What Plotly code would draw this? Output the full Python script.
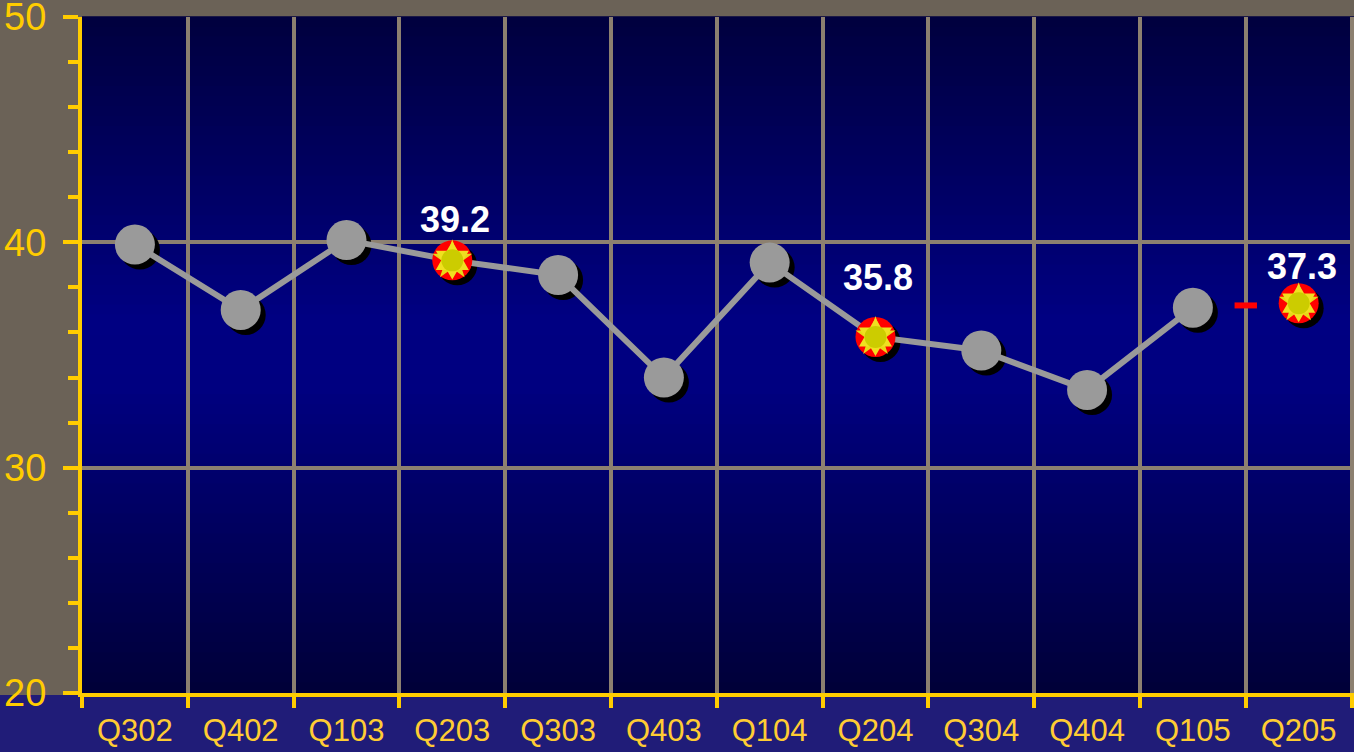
import plotly.graph_objects as go

# ---------------- data ----------------
quarters = ["Q302", "Q402", "Q103", "Q203", "Q303", "Q403",
            "Q104", "Q204", "Q304", "Q404", "Q105", "Q205"]
actual = [39.9, 37.0, 40.1, 39.2, 38.55, 34.0, 39.1, 35.8, 35.2, 33.45, 37.1, None]
target_q205 = 37.3
highlight_idx = [3, 7, 11]
highlight_text = ["39.2", "35.8", "37.3"]
y_ticks = [20, 30, 40, 50]

# ---------------- styles ----------------
YELLOW = "#FFCC00"
GRID = "#8C8070"
PAPER = "#6B6257"
STRIP = "#201C78"
GRAY = "#9A9A9A"
FONT = "Liberation Sans, Arial, sans-serif"
label_yshift = [41, 59, 37]

L, T, B = 82, 17, 59
W, H = 1354, 752
plot_w, plot_h = W - L, H - T - B
x_rng = [-0.5, 11.523]
y_rng = [20, 50]
px_per_x = plot_w / (x_rng[1] - x_rng[0])
px_per_y = plot_h / (y_rng[1] - y_rng[0])
sh_dx, sh_dy = 5 / px_per_x, -5 / px_per_y

xs = list(range(len(quarters)))
series = list(actual)
all_vals = [v if v is not None else target_q205 for v in actual]

fig = go.Figure()

# shadows
fig.add_trace(go.Scatter(
    x=[x + sh_dx for x in xs], y=[v + sh_dy for v in all_vals],
    mode="markers", marker=dict(size=40, color="black", line=dict(width=0)),
    hoverinfo="skip", showlegend=False))

# connecting line
fig.add_trace(go.Scatter(
    x=xs, y=series, mode="lines", line=dict(color=GRAY, width=6),
    connectgaps=False, hoverinfo="skip", showlegend=False))

# normal points
norm_x = [x for x in xs if x not in highlight_idx]
norm_y = [all_vals[x] for x in norm_x]
fig.add_trace(go.Scatter(
    x=norm_x, y=norm_y, mode="markers",
    marker=dict(size=40, color=GRAY, line=dict(width=0)),
    name="value", showlegend=False))

# highlighted points
hx = highlight_idx
hy = [all_vals[i] for i in hx]
fig.add_trace(go.Scatter(
    x=hx, y=hy, mode="markers",
    marker=dict(size=40, color="#FF0000", line=dict(width=0)),
    showlegend=False, hoverinfo="skip"))
fig.add_trace(go.Scatter(
    x=hx, y=hy, mode="markers",
    marker=dict(size=30, color="#E8D818", symbol="star", line=dict(width=0)),
    showlegend=False, hoverinfo="skip"))
fig.add_trace(go.Scatter(
    x=hx, y=hy, mode="markers",
    marker=dict(size=29, color="#F0E020", symbol="hexagram", line=dict(width=0)),
    showlegend=False, hoverinfo="skip"))
fig.add_trace(go.Scatter(
    x=hx, y=hy, mode="markers",
    marker=dict(size=22, color="#CCCC00", symbol="circle", line=dict(width=0)),
    showlegend=False, hoverinfo="skip"))

# red break dash between Q105 and Q205
fig.add_trace(go.Scatter(
    x=[(xs[-2] + xs[-1]) / 2], y=[(actual[-2] + target_q205) / 2],
    mode="markers",
    marker=dict(symbol="line-ew", size=16, line=dict(color="#FF0000", width=6)),
    showlegend=False, hoverinfo="skip"))

# labels
for i, t, dy in zip(highlight_idx, highlight_text, label_yshift):
    fig.add_annotation(x=i, y=all_vals[i], text=t, showarrow=False,
                       yshift=dy, xshift=3,
                       font=dict(family=FONT, size=36, color="white", weight="bold"))

# background gradient in plot area
def lerp(a, b, t):
    return tuple(round(a[k] + (b[k] - a[k]) * t) for k in range(3))

stops = [(0.0, (0, 0, 62)), (0.45, (0, 0, 130)), (0.55, (0, 0, 128)), (1.0, (0, 0, 56))]
N = 68
shapes = []
for n in range(N):
    t = (n + 0.5) / N  # from top
    for (t0, c0), (t1, c1) in zip(stops[:-1], stops[1:]):
        if t0 <= t <= t1:
            c = lerp(c0, c1, (t - t0) / (t1 - t0))
            break
    shapes.append(dict(type="rect", xref="paper", yref="paper",
                       x0=0, x1=1, y0=1 - (n + 1) / N - 0.001, y1=1 - n / N + 0.001,
                       fillcolor="rgb(%d,%d,%d)" % c, line=dict(width=0),
                       layer="below"))
# bottom blue strip
shapes.append(dict(type="rect", xref="paper", yref="paper",
                   x0=-L / plot_w - 0.01, x1=1.01, y0=-B / plot_h - 0.01, y1=-2 / plot_h,
                   fillcolor=STRIP, line=dict(width=0), layer="below"))

fig.update_layout(
    width=W, height=H,
    margin=dict(l=L, r=0, t=T, b=B, pad=0, autoexpand=False),
    paper_bgcolor=PAPER, plot_bgcolor="#000060",
    shapes=shapes, showlegend=False,
    xaxis=dict(
        range=x_rng, tickmode="array", tickvals=xs, ticktext=quarters,
        ticks="", showgrid=False, zeroline=False, automargin=False,
        showline=True, linecolor=YELLOW, linewidth=4,
        tickfont=dict(family=FONT, size=31, color="#FFCC33"),
        ticklabelstandoff=7, ticklabeloverflow="allow",
        minor=dict(tickmode="array", tickvals=[i - 0.5 for i in range(len(quarters) + 1)],
                   ticks="outside", ticklen=11, tickwidth=4, tickcolor=YELLOW,
                   showgrid=True, gridcolor=GRID, gridwidth=4),
    ),
    yaxis=dict(
        range=y_rng, tickmode="array", tickvals=y_ticks,
        ticks="outside", ticklen=15, tickwidth=4, tickcolor=YELLOW,
        showgrid=True, gridcolor=GRID, gridwidth=4, zeroline=False, automargin=False,
        showline=True, linecolor=YELLOW, linewidth=4,
        tickfont=dict(family=FONT, size=38, color=YELLOW),
        ticklabelstandoff=9, ticklabeloverflow="allow",
        minor=dict(tickmode="linear", tick0=20, dtick=2, ticks="outside",
                   ticklen=10, tickwidth=4, tickcolor=YELLOW, showgrid=False),
    ),
)

fig.write_html("out.html")
